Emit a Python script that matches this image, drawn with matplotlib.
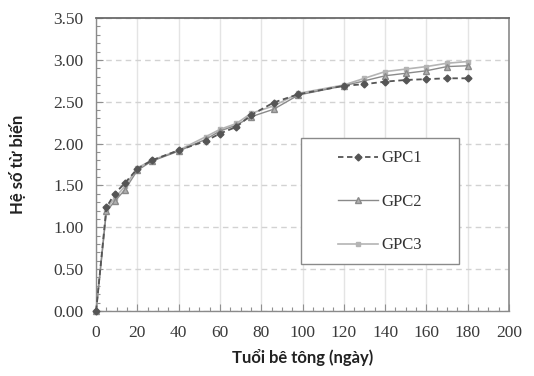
import matplotlib
matplotlib.use("Agg")
import matplotlib.pyplot as plt
from matplotlib.ticker import MultipleLocator, FormatStrFormatter
from matplotlib.lines import Line2D
from matplotlib.patches import Rectangle

days = [0, 5, 9, 14, 20, 27, 40, 53, 60, 68, 75, 86, 98, 120, 130, 140, 150, 160, 170, 180]
gpc1 = [0.00, 1.24, 1.40, 1.53, 1.70, 1.80, 1.92, 2.03, 2.12, 2.20, 2.34, 2.49, 2.59,
        2.69, 2.71, 2.74, 2.76, 2.77, 2.78, 2.78]
gpc2 = [0.00, 1.19, 1.31, 1.45, 1.68, 1.79, 1.91, 2.05, 2.15, 2.22, 2.32, 2.41, 2.58,
        2.69, 2.75, 2.81, 2.84, 2.87, 2.92, 2.93]
gpc3 = [0.00, 1.22, 1.35, 1.49, 1.71, 1.80, 1.92, 2.08, 2.17, 2.24, 2.36, 2.45, 2.60,
        2.70, 2.78, 2.86, 2.89, 2.92, 2.96, 2.98]
labels = ["GPC1", "GPC2", "GPC3"]
xlabel = "Tuổi bê tông (ngày)"
ylabel = "Hệ số từ biến"

fig = plt.figure(figsize=(5.34, 3.76), dpi=100)
ax = fig.add_axes([0.180, 0.173, 0.773, 0.779])

c1, c2, c3 = "#555555", "#8a8a8a", "#b4b4b4"
ax.plot(days, gpc3, color=c3, lw=1.2, marker="s", ms=3.5, mfc=c3, mec=c3, zorder=3, clip_on=False)
ax.plot(days, gpc2, color=c2, lw=1.0, marker="^", ms=4, mfc="#b0b0b0", mec=c2, zorder=4, clip_on=False)
ax.plot(days, gpc1, color=c1, lw=1.3, ls=(0, (3, 2)), marker="D", ms=3.5, mfc=c1, mec=c1, zorder=5, clip_on=False)

ax.set_xlim(0, 200)
ax.set_ylim(0, 3.5)
ax.xaxis.set_major_locator(MultipleLocator(20))
ax.xaxis.set_minor_locator(MultipleLocator(5))
ax.yaxis.set_major_locator(MultipleLocator(0.5))
ax.yaxis.set_minor_locator(MultipleLocator(0.1))
ax.yaxis.set_major_formatter(FormatStrFormatter("%.2f"))

ax.grid(axis="x", which="major", color="#e4e4e4", lw=1.0, ls="-", zorder=0)
ax.grid(axis="y", which="major", color="#d2d2d2", lw=1.0, ls=(0, (4, 3)), zorder=0)
ax.set_axisbelow(True)

ax.tick_params(which="both", direction="in", color="#909090", top=False, right=False)
ax.tick_params(which="major", length=5, width=0.8)
ax.tick_params(which="minor", length=3, width=0.8)
ax.tick_params(axis="both", labelsize=12.5, labelcolor="#3a3a3a")
ax.tick_params(axis="x", pad=10)
ax.tick_params(axis="y", pad=9)
for lab in ax.get_xticklabels() + ax.get_yticklabels():
    lab.set_family("Liberation Serif")

for s in ["left", "bottom"]:
    ax.spines[s].set_color("#8a8a8a")
    ax.spines[s].set_linewidth(1.0)
ax.spines["top"].set_color("#6a6a6a")
ax.spines["top"].set_linewidth(1.3)
ax.spines["right"].set_color("#8a8a8a")
ax.spines["right"].set_linewidth(1.2)

ax.set_xlabel(xlabel, family="Lato", weight="bold", fontsize=12, color="#222222", labelpad=6)
ax.set_ylabel(ylabel, family="Lato", weight="bold", fontsize=12, color="#222222", labelpad=20)

# legend frame
ax.add_patch(Rectangle((0.496, 0.160), 0.383, 0.430, transform=ax.transAxes,
                       facecolor="white", edgecolor="#8a8a8a", lw=1.0, zorder=6))
handles = [
    Line2D([], [], color=c1, lw=1.3, ls=(0, (3, 2)), marker="D", ms=3.5, mfc=c1, mec=c1),
    Line2D([], [], color=c2, lw=1.0, marker="^", ms=4, mfc="#b0b0b0", mec=c2),
    Line2D([], [], color=c3, lw=1.2, marker="s", ms=3.5, mfc=c3, mec=c3),
]
leg = ax.legend(handles, labels, loc="center", bbox_to_anchor=(0.688, 0.372),
                prop={"family": "Liberation Serif", "size": 12},
                frameon=False, handlelength=2.4, labelspacing=1.65,
                borderpad=0.0, handletextpad=0.2, borderaxespad=0)
leg.set_zorder(7)
for t in leg.get_texts():
    t.set_color("#333333")

fig.savefig("out.png", dpi=100, facecolor="white")
